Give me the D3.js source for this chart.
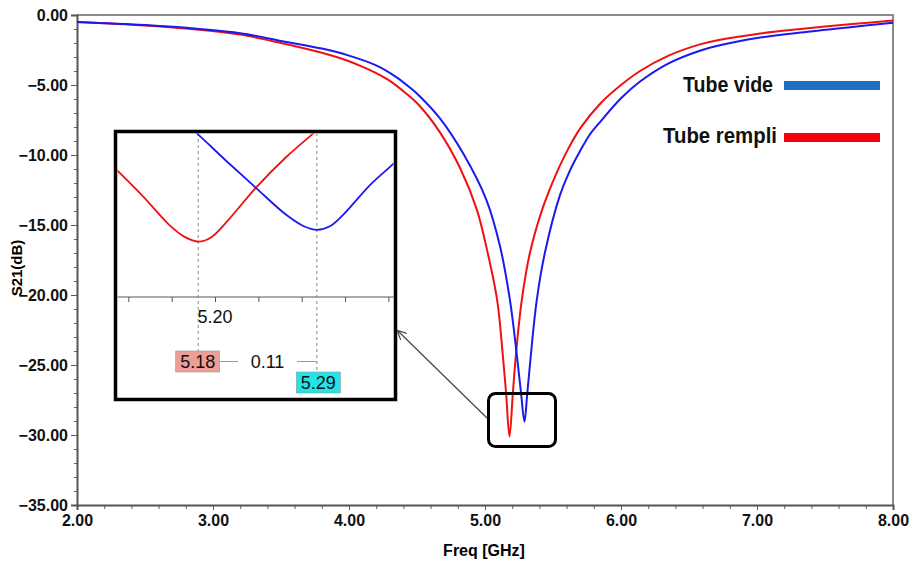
<!DOCTYPE html>
<html>
<head>
<meta charset="utf-8">
<script src="https://cdn.jsdelivr.net/npm/d3@7"></script>
<style>
  html, body { margin: 0; padding: 0; background: #fff; }
  svg { display: block; }
  text { font-family: "Liberation Sans", Arial, sans-serif; }
</style>
</head>
<body>
<svg id="chart" width="911" height="565"></svg>
<script>
// ---------------- data ----------------
const seriesNames = ["Tube vide", "Tube rempli"];

const videFreq = [2.0, 2.5, 2.9, 3.2, 3.5, 3.8, 4.0, 4.2, 4.35, 4.45, 4.52, 4.67, 4.84, 5.01, 5.11, 5.184, 5.233, 5.265, 5.29, 5.311, 5.338, 5.38, 5.44, 5.55, 5.62, 5.70, 5.77, 5.85, 6.0, 6.14, 6.35, 6.58, 6.71, 7.0, 7.32, 7.7, 8.0];
const videDb   = [-0.5, -0.72, -1.0, -1.3, -1.85, -2.4, -2.9, -3.6, -4.45, -5.2, -5.8, -7.4, -9.9, -13.2, -16.5, -20.4, -24.2, -27.0, -29.05, -27.0, -24.2, -20.4, -17.0, -12.9, -11.2, -9.7, -8.55, -7.6, -5.95, -4.75, -3.45, -2.55, -2.2, -1.65, -1.25, -0.85, -0.55];

const rempliFreq = [2.0, 2.5, 2.9, 3.2, 3.5, 3.8, 4.0, 4.1, 4.2, 4.3, 4.42, 4.52, 4.67, 4.82, 4.94, 5.02, 5.09, 5.13, 5.155, 5.18, 5.205, 5.228, 5.27, 5.33, 5.42, 5.47, 5.53, 5.61, 5.70, 5.85, 6.0, 6.14, 6.35, 6.58, 6.71, 7.0, 7.32, 7.7, 8.0];
const rempliDb   = [-0.5, -0.75, -1.05, -1.4, -2.0, -2.7, -3.3, -3.7, -4.15, -4.7, -5.6, -6.5, -8.4, -11.0, -13.9, -17.0, -20.4, -24.2, -27.0, -30.1, -27.0, -24.2, -20.4, -17.0, -13.9, -12.6, -11.2, -9.6, -8.1, -6.3, -5.0, -4.0, -2.9, -2.1, -1.8, -1.35, -1.0, -0.65, -0.4];

// zoomed inset (as displayed in the inset panel)
const insetVideFreq = [5.175, 5.183, 5.211, 5.2385, 5.266, 5.282, 5.294, 5.306, 5.318, 5.343, 5.3645, 5.372];
const insetVideDb   = [-20.5, -21.1, -23.5, -25.8, -28.05, -29.0, -29.3, -29.0, -28.05, -25.5, -23.7, -23.0];
const insetRempliFreq = [5.10, 5.108, 5.134, 5.158, 5.172, 5.185, 5.197, 5.211, 5.2385, 5.266, 5.291, 5.30];
const insetRempliDb   = [-23.4, -24.1, -26.5, -28.9, -29.9, -30.3, -29.9, -28.6, -25.65, -23.1, -21.1, -20.4];

const markerFreq = [5.1845, 5.294];
const insetTicks = [5.12, 5.16, 5.20, 5.24, 5.28, 5.32, 5.36];
const insetLabelTicks = [5.20];

const xTicks = [2, 3, 4, 5, 6, 7, 8];
const yTicks = [0, -5, -10, -15, -20, -25, -30, -35];

// ---------------- drawing ----------------
const svg = d3.select("#chart");
const fmt = d3.format(".2f");

const x = d3.scaleLinear().domain([2, 8]).range([77, 893]);
const y = d3.scaleLinear().domain([-35, 0]).range([505, 15]);

const colVide = "#1a1af0", colRempli = "#f01010";

// frame (top & right)
svg.append("path")
  .attr("d", `M${x(2)},${y(0)}H${x(8)}V${y(-35)}`)
  .attr("fill", "none").attr("stroke", "#8a8a8a").attr("stroke-width", 2);

// minor ticks
const yMinor = d3.range(-35, 0.001, 1);
const xMinor = d3.range(2, 8.001, 0.2);
svg.append("g").attr("transform", `translate(${x(2)},0)`)
  .call(d3.axisLeft(y).tickValues(yMinor).tickSize(3).tickFormat(""))
  .call(g => g.select(".domain").remove())
  .call(g => g.selectAll("line").attr("stroke", "#666"));
svg.append("g").attr("transform", `translate(0,${y(-35)})`)
  .call(d3.axisBottom(x).tickValues(xMinor).tickSize(4).tickFormat(""))
  .call(g => g.select(".domain").remove())
  .call(g => g.selectAll("line").attr("stroke", "#666"));

// major axes
const yAxis = svg.append("g").attr("transform", `translate(${x(2)},0)`)
  .call(d3.axisLeft(y).tickValues(yTicks).tickSize(6).tickPadding(3).tickFormat(fmt));
const xAxis = svg.append("g").attr("transform", `translate(0,${y(-35)})`)
  .call(d3.axisBottom(x).tickValues(xTicks).tickSize(5).tickPadding(5).tickFormat(fmt));
[yAxis, xAxis].forEach(a => {
  a.select(".domain").attr("stroke", "#555").attr("stroke-width", 2);
  a.selectAll(".tick line").attr("stroke", "#555");
  a.selectAll(".tick text").attr("fill", "#111").style("font-size", "16px").style("font-weight", "bold")
    .style("font-family", "'Liberation Sans Narrow', 'Liberation Sans', Arial, sans-serif");
});

// axis titles
svg.append("text").attr("x", 484).attr("y", 556).attr("text-anchor", "middle")
  .style("font-size", "16px").style("font-weight", "bold")
  .text("Freq [GHz]");
svg.append("text").attr("transform", "translate(22,268) rotate(-90)").attr("text-anchor", "middle")
  .style("font-size", "15px").style("font-weight", "bold").text("S21(dB)");

// curves
const line = d3.line().x(d => x(d[0])).y(d => y(d[1])).curve(d3.curveCatmullRom.alpha(0.5));
svg.append("path").datum(d3.zip(rempliFreq, rempliDb)).attr("d", line)
  .attr("fill", "none").attr("stroke", colRempli).attr("stroke-width", 2);
svg.append("path").datum(d3.zip(videFreq, videDb)).attr("d", line)
  .attr("fill", "none").attr("stroke", colVide).attr("stroke-width", 2);

// legend
const legend = [
  { name: seriesNames[0], color: "#1f6fc4", ty: 92, ly: 85.5, tx: 683, w: 90 },
  { name: seriesNames[1], color: "#f5000a", ty: 143, ly: 137.5, tx: 663, w: 114 }
];
legend.forEach(l => {
  svg.append("text").attr("x", l.tx).attr("y", l.ty)
    .attr("textLength", l.w).attr("lengthAdjust", "spacingAndGlyphs")
    .style("font-size", "22px").style("font-weight", "bold").attr("fill", "#111").text(l.name);
  svg.append("line").attr("x1", 784).attr("x2", 880).attr("y1", l.ly).attr("y2", l.ly)
    .attr("stroke", l.color).attr("stroke-width", 9);
});

// highlight rounded rectangle around resonances
svg.append("rect").attr("x", 488.5).attr("y", 393.5).attr("width", 67).attr("height", 53).attr("rx", 7)
  .attr("fill", "none").attr("stroke", "#000").attr("stroke-width", 3);

// arrow
const defs = svg.append("defs");
defs.append("marker").attr("id", "arr").attr("viewBox", "0 0 10 10").attr("refX", 9).attr("refY", 5)
  .attr("markerWidth", 9).attr("markerHeight", 9).attr("orient", "auto-start-reverse").attr("markerUnits", "userSpaceOnUse")
  .append("path").attr("d", "M0,0L10,5L0,10").attr("fill", "none").attr("stroke", "#444").attr("stroke-width", 1.3);
svg.append("line").attr("x1", 487).attr("y1", 418).attr("x2", 398).attr("y2", 331)
  .attr("stroke", "#444").attr("stroke-width", 1.2).attr("marker-end", "url(#arr)");

// ---------------- inset ----------------
const inset = svg.append("g");
inset.append("rect").attr("x", 115.5).attr("y", 131.5).attr("width", 280).attr("height", 268)
  .attr("fill", "#fff").attr("stroke", "#000").attr("stroke-width", 3.5);
defs.append("clipPath").attr("id", "iclip").append("rect")
  .attr("x", 117.5).attr("y", 133.5).attr("width", 276).attr("height", 264);

const ix = d3.scaleLinear().domain([5.20, 5.28]).range([215, 301.7]);
const iy = d3.scaleLinear().domain([-35, -21]).range([297, 132]);

const ig = inset.append("g").attr("clip-path", "url(#iclip)");

// inset axis
const iax = ig.append("g").attr("transform", `translate(0,${iy(-35)})`)
  .call(d3.axisBottom(ix).tickValues(insetTicks).tickSize(5).tickFormat(""));
iax.select(".domain").remove();
iax.selectAll("line").attr("stroke", "#555");
ig.append("line").attr("x1", 117).attr("x2", 394).attr("y1", iy(-35)).attr("y2", iy(-35))
  .attr("stroke", "#555").attr("stroke-width", 1.2);
ig.selectAll(".ilab").data(insetLabelTicks).join("text").attr("class", "ilab")
  .attr("x", d => ix(d)).attr("y", 323).attr("text-anchor", "middle")
  .style("font-size", "18px").attr("fill", "#111").text(fmt);

// marker dashed lines
const markerBottoms = [351, 372];
ig.selectAll(".mk").data(markerFreq).join("line").attr("class", "mk")
  .attr("x1", d => ix(d)).attr("x2", d => ix(d)).attr("y1", 133).attr("y2", (d, i) => markerBottoms[i])
  .attr("stroke", "#888").attr("stroke-width", 1).attr("stroke-dasharray", "3,3");

// inset curves
const iline = d3.line().x(d => ix(d[0])).y(d => iy(d[1])).curve(d3.curveCatmullRom.alpha(0.5));
ig.append("path").datum(d3.zip(insetRempliFreq, insetRempliDb)).attr("d", iline)
  .attr("fill", "none").attr("stroke", colRempli).attr("stroke-width", 1.8);
ig.append("path").datum(d3.zip(insetVideFreq, insetVideDb)).attr("d", iline)
  .attr("fill", "none").attr("stroke", colVide).attr("stroke-width", 1.8);

// delta annotation
const m0 = ix(markerFreq[0]), m1 = ix(markerFreq[1]);
ig.append("line").attr("x1", m0 + 22).attr("x2", 238).attr("y1", 361.5).attr("y2", 361.5).attr("stroke", "#999");
ig.append("line").attr("x1", 297).attr("x2", m1).attr("y1", 361.5).attr("y2", 361.5).attr("stroke", "#999");
ig.append("text").attr("x", (m0 + m1) / 2 + 10).attr("y", 368).attr("text-anchor", "middle")
  .style("font-size", "18px").attr("fill", "#111")
  .text(fmt(Math.round((markerFreq[1] - markerFreq[0]) * 100) / 100));

const boxes = [
  { f: markerFreq[0], cx: m0 - 0.5, y: 351, fill: "#ec9f97" },
  { f: markerFreq[1], cx: m1 + 1.5, y: 372, fill: "#20e4e8" }
];
boxes.forEach(b => {
  ig.append("rect").attr("x", b.cx - 22).attr("y", b.y).attr("width", 44).attr("height", 21)
    .attr("fill", b.fill).attr("stroke", "#999").attr("stroke-width", 0.6);
  ig.append("text").attr("x", b.cx).attr("y", b.y + 17).attr("text-anchor", "middle")
    .style("font-size", "18px").attr("fill", "#111").text(fmt(b.f));
});
</script>
</body>
</html>
